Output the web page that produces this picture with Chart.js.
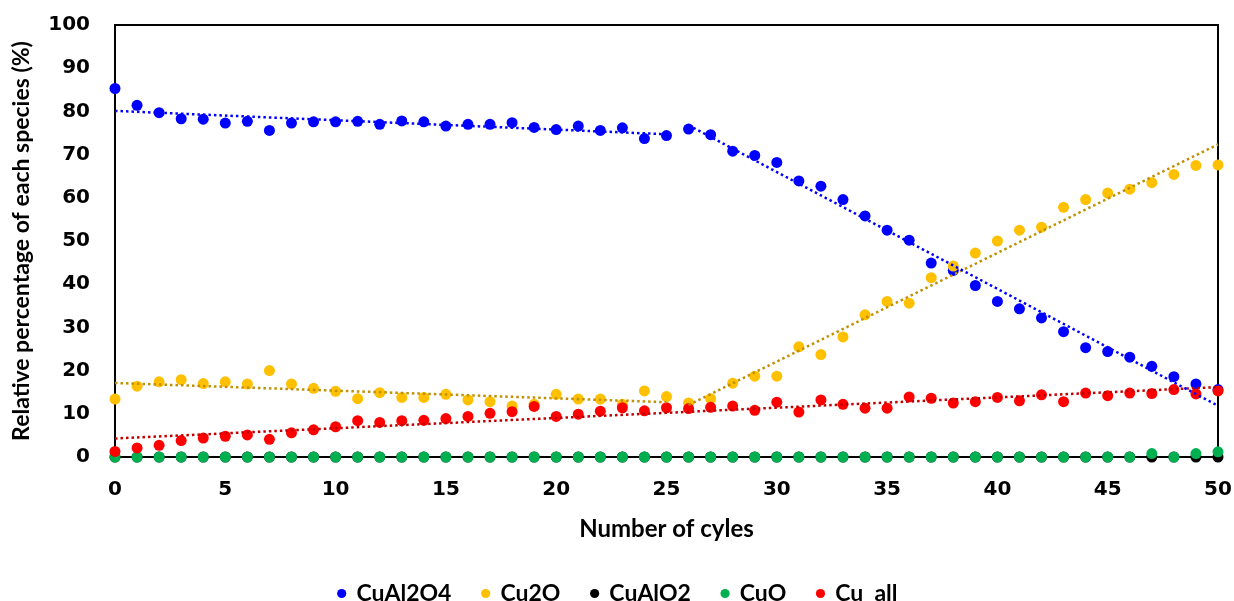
<!DOCTYPE html>
<html>
<head>
<meta charset="utf-8">
<script src="https://cdn.jsdelivr.net/npm/chart.js@4.4.1/dist/chart.umd.min.js"></script>
<style>
  html, body { margin: 0; padding: 0; background: #fff; }
  #wrap { width: 1234px; height: 601px; }
</style>
</head>
<body>
<div id="wrap"><canvas id="chart" width="1234" height="601"></canvas></div>
<script>
const cycles = [0, 1, 2, 3, 4, 5, 6, 7, 8, 9, 10, 11, 12, 13, 14, 15, 16, 17, 18, 19, 20,
    21, 22, 23, 24, 25, 26, 27, 28, 29, 30, 31, 32, 33, 34, 35, 36, 37, 38, 39, 40,
    41, 42, 43, 44, 45, 46, 47, 48, 49, 50]

const cuAl2O4 = [85.3, 81.4, 79.7, 78.3, 78.2, 77.3, 77.7, 75.6, 77.3, 77.6, 77.6,
    77.7, 77.0, 77.8, 77.6, 76.6, 77.0, 77.0, 77.4, 76.3, 75.8,
    76.6, 75.6, 76.2, 73.7, 74.4, 75.9, 74.6, 70.8, 69.8, 68.2,
    63.9, 62.7, 59.6, 55.8, 52.5, 50.2, 44.9, 43.2, 39.7, 36.0,
    34.3, 32.2, 29.0, 25.3, 24.4, 23.1, 21.0, 18.6, 16.9, 15.6]

const cu2O = [13.4, 16.4, 17.4, 17.9, 17.0, 17.4, 16.9, 20.0, 16.9, 15.9, 15.2,
    13.5, 14.9, 13.8, 13.8, 14.5, 13.2, 12.8, 11.8, 12.2, 14.5,
    13.4, 13.4, 12.2, 15.3, 14.0, 12.5, 13.5, 17.1, 18.7, 18.7,
    25.5, 23.7, 27.8, 32.9, 36.0, 35.6, 41.5, 44.2, 47.2, 50.0,
    52.5, 53.2, 57.8, 59.6, 61.1, 62.0, 63.5, 65.4, 67.5, 67.6]

const cuAlO2 = [0, 0, 0, 0, 0, 0, 0, 0, 0, 0, 0,
    0, 0, 0, 0, 0, 0, 0, 0, 0, 0,
    0, 0, 0, 0, 0, 0, 0, 0, 0, 0,
    0, 0, 0, 0, 0, 0, 0, 0, 0, 0,
    0, 0, 0, 0, 0, 0, 0, 0, 0, 0]

const cuO = [0, 0, 0, 0, 0, 0, 0, 0, 0, 0, 0,
    0, 0, 0, 0, 0, 0, 0, 0, 0, 0,
    0, 0, 0, 0, 0, 0, 0, 0, 0, 0,
    0, 0, 0, 0, 0, 0, 0, 0, 0, 0,
    0, 0, 0, 0, 0, 0, 0.8, 0, 0.8, 1.2]

const cuAll = [1.3, 2.1, 2.7, 3.8, 4.4, 4.8, 5.1, 4.1, 5.6, 6.3, 7.0,
    8.4, 8.0, 8.4, 8.5, 8.9, 9.4, 10.1, 10.5, 11.7, 9.4,
    9.9, 10.6, 11.4, 10.7, 11.4, 11.2, 11.5, 11.8, 10.8, 12.7,
    10.4, 13.2, 12.2, 11.3, 11.3, 13.9, 13.6, 12.5, 12.8, 13.8,
    13.0, 14.4, 12.8, 14.8, 14.2, 14.8, 14.7, 15.6, 14.6, 15.3]

const seriesNames = ['CuAl2O4', 'Cu2O', 'CuAlO2', 'CuO', 'Cu  all']

// index ranges (first, last) used for the linear trendlines
const cuAl2O4Trend = [[0, 25], [26, 50]]
const cu2OTrend = [[0, 25], [26, 50]]
const cuAllTrend = [[0, 50]]

const FONT = 'Lato, "Open Sans", sans-serif'
const TICK_FONT = '"DejaVu Sans", Lato, sans-serif'

function points(ys) {
    return cycles.map((c, i) => ({ x: c, y: ys[i] }))
}

// least squares line over cycles[from..to], returned as its two end points
function fitLine(ys, from, to) {
    let n = 0, sx = 0, sy = 0, sxx = 0, sxy = 0
    for (let i = from; i <= to; i++) {
        const x = cycles[i], y = ys[i]
        n++; sx += x; sy += y; sxx += x * x; sxy += x * y
    }
    const b = (n * sxy - sx * sy) / (n * sxx - sx * sx)
    const a = (sy - b * sx) / n
    return [
        { x: cycles[from], y: a + b * cycles[from] },
        { x: cycles[to], y: a + b * cycles[to] }
    ]
}

function markerSet(label, ys, color, order) {
    return {
        label: label,
        data: points(ys),
        backgroundColor: color,
        borderColor: color,
        borderWidth: 1,
        pointRadius: 5.5,
        pointHoverRadius: 5.5,
        pointBorderWidth: 0,
        showLine: false,
        clip: false,
        order: order
    }
}

function trendSets(ys, ranges, color) {
    return ranges.map(r => ({
        label: 'trend',
        data: fitLine(ys, r[0], r[1]),
        borderColor: color,
        borderWidth: 2.5,
        borderDash: [2.5, 3],
        pointRadius: 0,
        showLine: true,
        fill: false,
        clip: false,
        order: 0
    }))
}

const datasets = [
    markerSet(seriesNames[0], cuAl2O4, '#0000ff', 5),
    markerSet(seriesNames[1], cu2O, '#ffc000', 4),
    markerSet(seriesNames[2], cuAlO2, '#000000', 3),
    markerSet(seriesNames[3], cuO, '#00b050', 2),
    markerSet(seriesNames[4], cuAll, '#ff0000', 1),
    ...trendSets(cuAl2O4, cuAl2O4Trend, '#0000ff'),
    ...trendSets(cu2O, cu2OTrend, '#bf9000'),
    ...trendSets(cuAll, cuAllTrend, '#c00000')
]

// top and right edges of the plot box
const frameBox = {
    id: 'frameBox',
    beforeDatasetsDraw(chart) {
        const { ctx, chartArea: a } = chart
        ctx.save()
        ctx.strokeStyle = '#000'
        ctx.lineWidth = 2
        ctx.strokeRect(a.left, a.top, a.right - a.left, a.bottom - a.top)
        ctx.restore()
    }
}

const config = {
    type: 'scatter',
    data: { datasets: datasets },
    options: {
        responsive: false,
        animation: false,
        devicePixelRatio: 1,
        layout: {
            padding: { top: 25, right: 16, bottom: 0, left: 18 }
        },
        scales: {
            x: {
                type: 'linear',
                min: 0,
                max: 50,
                // gap under the axis comes from an invisible tick length
                grid: { display: false, drawTicks: true, tickLength: 21 },
                border: { display: true, color: '#000', width: 2 },
                ticks: {
                    stepSize: 5,
                    padding: 0,
                    color: '#000',
                    font: { family: TICK_FONT, size: 20, weight: 'bold' }
                },
                title: {
                    display: true,
                    text: 'Number of cyles',
                    color: '#000',
                    padding: { top: 0, bottom: 7 },
                    font: { family: FONT, size: 24, weight: 'bold' }
                },
                afterFit(scale) { scale.height = 94 }
            },
            y: {
                min: 0,
                max: 100,
                grid: { display: false, drawTicks: true, tickLength: 25 },
                border: { display: true, color: '#000', width: 2 },
                ticks: {
                    stepSize: 10,
                    padding: 0,
                    color: '#000',
                    font: { family: TICK_FONT, size: 20, weight: 'bold' }
                },
                title: {
                    display: true,
                    text: 'Relative percentage of each species (%)',
                    color: '#000',
                    padding: { top: -10, bottom: 0 },
                    font: { family: FONT, size: 23, weight: 'bold' }
                },
                afterFit(scale) { scale.width = 97 }
            }
        },
        plugins: {
            legend: {
                position: 'bottom',
                maxHeight: 50,
                labels: {
                    usePointStyle: true,
                    pointStyle: 'circle',
                    boxWidth: 6.5,
                    boxHeight: 6.5,
                    padding: 31,
                    color: '#000',
                    font: { family: FONT, size: 23, weight: 'bold' },
                    filter: item => item.datasetIndex < 5,
                    sort: (a, b) => a.datasetIndex - b.datasetIndex
                }
            },
            tooltip: { enabled: false }
        }
    },
    plugins: [frameBox]
}

window.onload = function () {
    const ctx = document.getElementById('chart').getContext('2d')
    window.myChart = new Chart(ctx, config)
}
</script>
</body>
</html>
